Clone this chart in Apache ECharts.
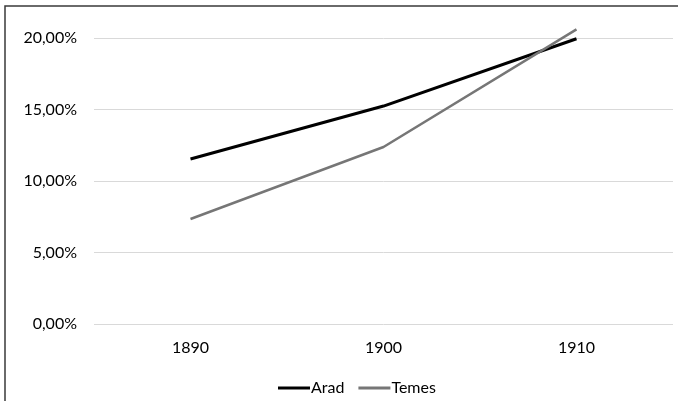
<!DOCTYPE html>
<html>
<head>
<meta charset="utf-8">
<script src="https://cdn.jsdelivr.net/npm/echarts@6/dist/echarts.min.js"></script>
<style>
  html, body { margin: 0; padding: 0; background: #fff; }
  #chart { width: 678px; height: 401px; }
</style>
</head>
<body>
<div id="chart"></div>
<script>
const years = ['1890', '1900', '1910']
const arad = [11.54, 15.24, 19.95]
const temes = [7.34, 12.38, 20.6]

const fontFamily = 'Lato, "Open Sans", sans-serif'

const option = {
  animation: false,
  textStyle: { fontFamily: fontFamily },
  graphic: [{
    type: 'rect',
    shape: { x: 5, y: 6, width: 720, height: 450 },
    style: { fill: 'none', stroke: '#3a3a3a', lineWidth: 1.5 },
    silent: true,
    z: 100
  }],
  grid: {
    left: 94,
    right: 5,
    top: 38,
    bottom: 77,
    containLabel: false
  },
  legend: {
    data: ['Arad', 'Temes'],
    left: 273,
    top: 375,
    icon: 'rect',
    itemWidth: 32,
    itemHeight: 3,
    itemGap: 14,
    textStyle: { fontSize: 16, color: '#000', fontFamily: fontFamily, padding: [0, 0, 0, -4] }
  },
  xAxis: {
    type: 'category',
    data: years,
    boundaryGap: true,
    axisLine: { show: false },
    axisTick: { show: false },
    axisLabel: { fontSize: 16, color: '#000', margin: 16 }
  },
  yAxis: {
    type: 'value',
    min: 0,
    max: 20,
    interval: 5,
    axisLine: { show: false },
    axisTick: { show: false },
    axisLabel: {
      fontSize: 16,
      color: '#000',
      margin: 17,
      formatter: v => v.toFixed(2).replace('.', ',') + '%'
    },
    splitLine: { lineStyle: { color: '#d9d9d9', width: 1 } }
  },
  series: [
    {
      name: 'Arad',
      type: 'line',
      data: arad,
      symbol: 'none',
      clip: false,
      color: '#000000',
      lineStyle: { width: 3, color: '#000000' }
    },
    {
      name: 'Temes',
      type: 'line',
      data: temes,
      symbol: 'none',
      clip: false,
      color: '#767676',
      lineStyle: { width: 2.5, color: '#767676' }
    }
  ]
}

echarts.init(document.getElementById('chart')).setOption(option)
</script>
</body>
</html>
